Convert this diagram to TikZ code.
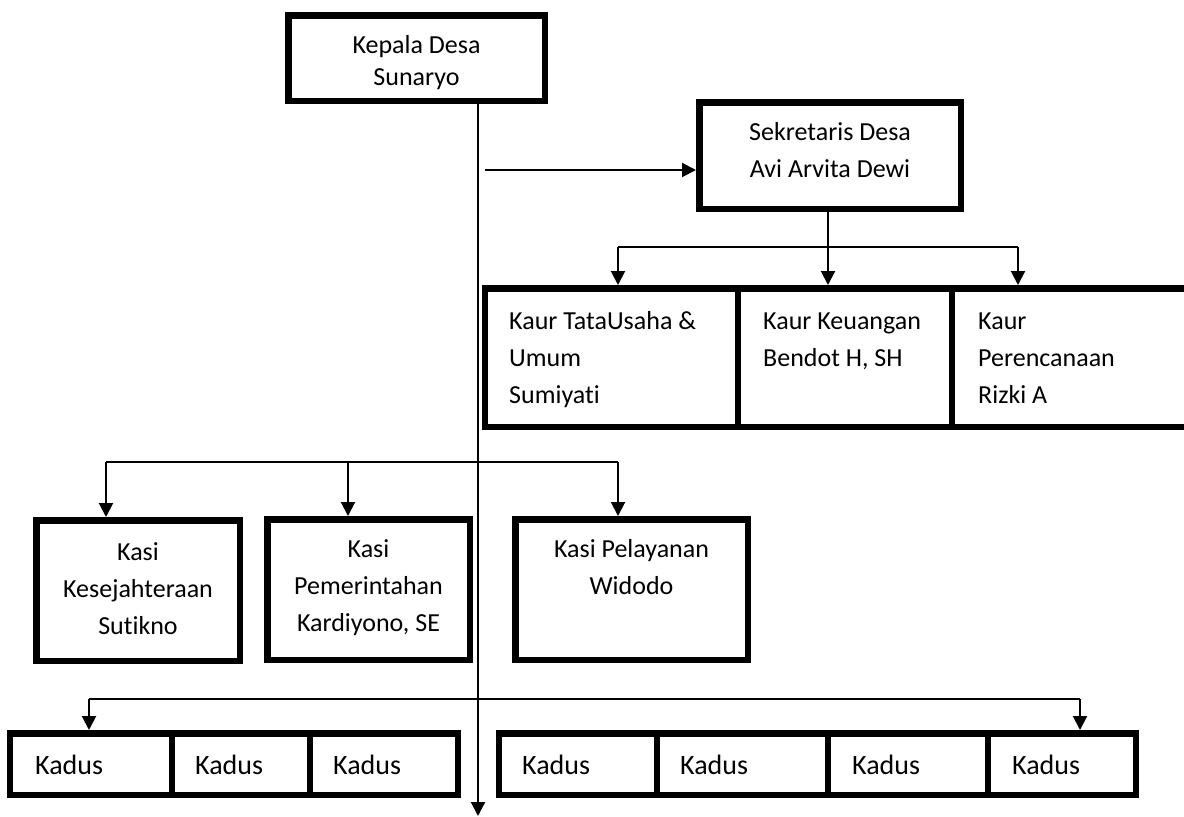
\documentclass[tikz,border=0pt]{standalone}
\usepackage{fontspec}
\setmainfont{Carlito}[Ligatures=NoCommon]
\usetikzlibrary{arrows.meta}
\newcommand\sr{\rule[-8pt]{0pt}{30pt}}
\begin{document}
\begin{tikzpicture}[x=1pt,y=-1pt,
  box/.style={draw, line width=6.5pt, inner sep=0pt},
  txt/.style={inner sep=0pt, font=\fontsize{26}{37}\selectfont},
  kadtxt/.style={inner sep=0pt, anchor=base west, font=\fontsize{28}{34}\selectfont},
  conn/.style={line width=2pt, -{Triangle[width=14pt,length=14pt]}},
  bar/.style={line width=1.5pt}
]
\useasboundingbox[fill=white] (0,0) rectangle (1184,817);

% Kepala Desa
\node[box, minimum width=256.5pt, minimum height=85.5pt] (kepala) at (416.5,58) {};
\node[txt, align=center, anchor=north, font=\fontsize{26}{32}\selectfont] (tkepala) at (416.5,31) {\sr Kepala Desa\\\sr Sunaryo};

% Sekretaris Desa
\node[box, minimum width=261.5pt, minimum height=106.5pt] (sek) at (830,155.5) {};
\node[txt, align=center, anchor=north, font=\fontsize{26}{36.5}\selectfont] (tsek) at (830,118.5) {\sr Sekretaris Desa\\\sr Avi Arvita Dewi};

% Kaur row
\node[box, minimum width=252.75pt, minimum height=138.5pt] (kaur1) at (611.6,357.5) {};
\node[box, minimum width=214pt, minimum height=138.5pt] (kaur2) at (845,357.5) {};
\node[box, minimum width=238pt, minimum height=138.5pt] (kaur3) at (1071,357.5) {};
\node[txt, align=left, anchor=north west] (tkaur1) at (509,307) {\sr Kaur TataUsaha \&\\\sr Umum\\\sr Sumiyati};
\node[txt, align=left, anchor=north west] (tkaur2) at (763,307) {\sr Kaur Keuangan\\\sr Bendot H, SH};
\node[txt, align=left, anchor=north west] (tkaur3) at (978,307) {\sr Kaur\\\sr Perencanaan\\\sr Rizki A};

% Kasi row
\node[box, minimum width=203.5pt, minimum height=140.5pt] (kasi1) at (138,590.5) {};
\node[box, minimum width=202.5pt, minimum height=140.5pt] (kasi2) at (368.5,589.5) {};
\node[box, minimum width=232.5pt, minimum height=140.5pt] (kasi3) at (631.5,589.5) {};
\node[txt, align=center, anchor=north] (tkasi1) at (138,538) {\sr Kasi\\\sr Kesejahteraan\\\sr Sutikno};
\node[txt, align=center, anchor=north] (tkasi2) at (368.5,535) {\sr Kasi\\\sr Pemerintahan\\\sr Kardiyono, SE};
\node[txt, align=center, anchor=north] (tkasi3) at (631.5,535) {\sr Kasi Pelayanan\\\sr Widodo};

% Kadus rows
\node[box, minimum width=161.75pt, minimum height=61.5pt] (kd1) at (91.1,764) {};
\node[box, minimum width=138pt, minimum height=61.5pt] (kd2) at (241,764) {};
\node[box, minimum width=147.75pt, minimum height=61.5pt] (kd3) at (383.9,764) {};
\node[box, minimum width=157.75pt, minimum height=61.5pt] (kd4) at (578.1,764) {};
\node[box, minimum width=171pt, minimum height=61.5pt] (kd5) at (742.5,764) {};
\node[box, minimum width=160pt, minimum height=61.5pt] (kd6) at (908,764) {};
\node[box, minimum width=147.75pt, minimum height=61.5pt] (kd7) at (1061.9,764) {};
\node[kadtxt] (tkd1) at (35,774) {Kadus};
\node[kadtxt] (tkd2) at (195,774) {Kadus};
\node[kadtxt] (tkd3) at (333,774) {Kadus};
\node[kadtxt] (tkd4) at (522,774) {Kadus};
\node[kadtxt] (tkd5) at (680,774) {Kadus};
\node[kadtxt] (tkd6) at (852,774) {Kadus};
\node[kadtxt] (tkd7) at (1012,774) {Kadus};

% main vertical line
\coordinate (mbot) at (478,816);
\draw[conn] (kepala.south -| mbot) -- (mbot);

% to Sekretaris
\coordinate (sa) at (485,170);
\draw[conn] (sa) -- (sa -| sek.west);

% Sekretaris to Kaur
\coordinate (kb1) at (618,247);
\coordinate (kb2) at (828,247);
\coordinate (kb3) at (1018,247);
\draw[bar] (kb1) -- (kb3);
\draw[conn] (sek.south -| kb2) -- (kb2 |- kaur2.north);
\draw[conn] (kb1) -- (kb1 |- kaur1.north);
\draw[conn] (kb3) -- (kb3 |- kaur3.north);

% Kasi branch
\coordinate (sb1) at (106,462);
\coordinate (sb2) at (348,462);
\coordinate (sb3) at (618,462);
\draw[bar] (sb1) -- (sb3);
\draw[conn] (sb1) -- (sb1 |- kasi1.north);
\draw[conn] (sb2) -- (sb2 |- kasi2.north);
\draw[conn] (sb3) -- (sb3 |- kasi3.north);

% Kadus branch
\coordinate (db1) at (89,699);
\coordinate (db2) at (1080,699);
\draw[bar] (db1) -- (db2);
\draw[conn] (db1) -- (db1 |- kd1.north);
\draw[conn] (db2) -- (db2 |- kd7.north);
\end{tikzpicture}
\end{document}
